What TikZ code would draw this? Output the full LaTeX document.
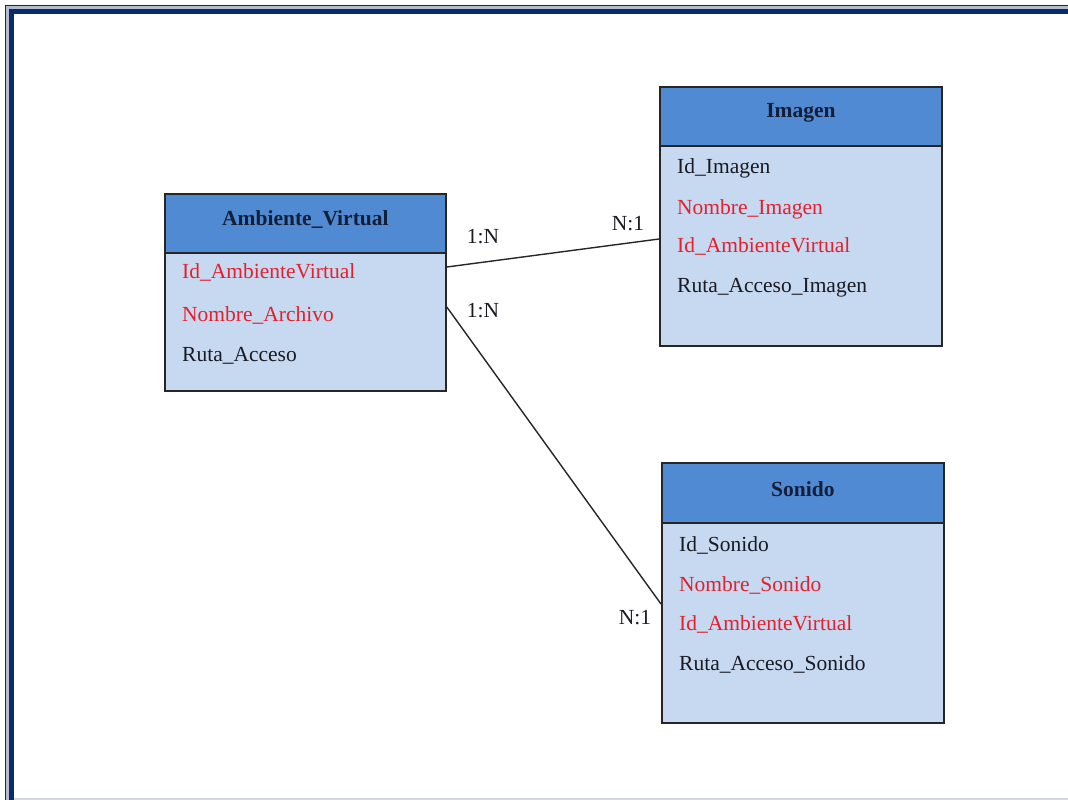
\documentclass[tikz,border=0pt]{standalone}
\usepackage{fontspec}
\setmainfont{Liberation Serif}
\definecolor{navy}{HTML}{0A2A6E}
\definecolor{frgray}{HTML}{B4BCCB}
\definecolor{hdrblue}{HTML}{508AD2}
\definecolor{bodyblue}{HTML}{C6D9F1}
\definecolor{hdrtext}{HTML}{141E38}
\definecolor{attrred}{HTML}{E3202C}
\definecolor{attrdark}{HTML}{1A1A22}
\newcommand{\hdrlift}[1]{\raisebox{3.5pt}[\height][\depth]{#1}}
\begin{document}
\begin{tikzpicture}[x=1pt,y=-1pt,
  ent/.style={draw=black!85,line width=1.8pt,fill=bodyblue,anchor=north west,inner sep=0pt},
  hdr/.style={draw=black!85,line width=1.8pt,fill=hdrblue,anchor=north west,inner sep=0pt,
    font=\fontsize{21.5}{24}\selectfont\bfseries,text=hdrtext},
  attr/.style={anchor=base west,inner sep=0pt,font=\fontsize{21.5}{24}\selectfont,text=attrdark},
  key/.style={attr,text=attrred},
  card/.style={anchor=base,inner sep=0pt,font=\fontsize{21.5}{24}\selectfont,text=attrdark},
  conn/.style={draw=black!85,line width=1.4pt}]
\useasboundingbox (0,0) rectangle (1068,800);
% frame
\fill[frgray] (5,800) -- (5,5) -- (1068,5) -- (1068,13.5) -- (13.5,13.5) -- (13.5,800) -- cycle;
\draw[navy,line width=1.3pt] (5.6,800) -- (5.6,5.6) -- (1068,5.6);
\draw[navy,line width=4.2pt] (11.5,800) -- (11.5,11.5) -- (1068,11.5);
\draw[frgray!60,line width=1.5pt] (13.5,799) -- (1068,799);

% Ambiente_Virtual
\node[ent,minimum width=281pt,minimum height=197pt] (av) at (164,193) {};
\node[hdr,minimum width=281pt,minimum height=59pt] (avh) at (164,193) {\hdrlift{Ambiente\_Virtual}};
\node[key] (av1) at (182,278) {Id\_AmbienteVirtual};
\node[key] (av2) at (182,321) {Nombre\_Archivo};
\node[attr] (av3) at (182,361) {Ruta\_Acceso};

% Imagen
\node[ent,minimum width=282pt,minimum height=259pt] (im) at (659,86) {};
\node[hdr,minimum width=282pt,minimum height=59pt] (imh) at (659,86) {\hdrlift{Imagen}};
\node[attr] (im1) at (677,173) {Id\_Imagen};
\node[key] (im2) at (677,214) {Nombre\_Imagen};
\node[key] (im3) at (677,252) {Id\_AmbienteVirtual};
\node[attr] (im4) at (677,292) {Ruta\_Acceso\_Imagen};

% Sonido
\node[ent,minimum width=282pt,minimum height=260pt] (so) at (661,462) {};
\node[hdr,minimum width=282pt,minimum height=60pt] (soh) at (661,462) {\hdrlift{Sonido}};
\node[attr] (so1) at (679,551) {Id\_Sonido};
\node[key] (so2) at (679,591) {Nombre\_Sonido};
\node[key] (so3) at (679,630) {Id\_AmbienteVirtual};
\node[attr] (so4) at (679,670) {Ruta\_Acceso\_Sonido};

% connectors
\draw[conn] (av.east |- 0,267) -- (im.west |- 0,239);
\draw[conn] (av.east |- 0,307) -- (so.west |- 0,604);

% cardinalities
\node[card] (c1) at (483,243) {1:N};
\node[card] (c2) at (628,230) {N:1};
\node[card] (c3) at (483,317) {1:N};
\node[card] (c4) at (635,624) {N:1};
\end{tikzpicture}
\end{document}
